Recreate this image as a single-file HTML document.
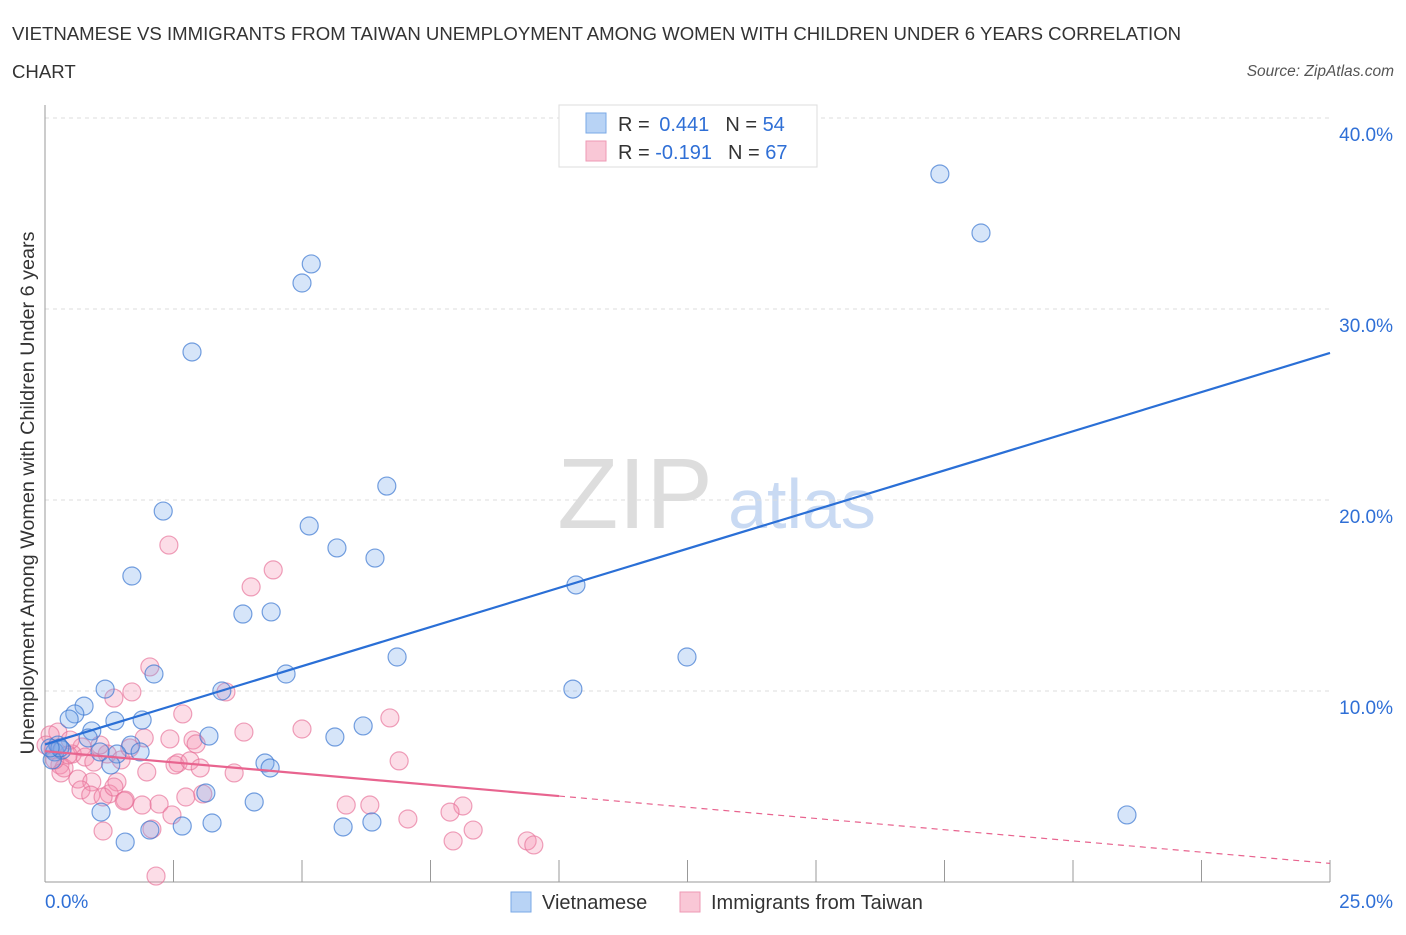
<!DOCTYPE html>
<html><head><meta charset="utf-8"><style>
body{margin:0;background:#fff;font-family:"Liberation Sans",sans-serif;}
svg text{font-family:"Liberation Sans",sans-serif;}
</style></head><body>
<svg id="chart" width="1406" height="930" viewBox="0 0 1406 930" xmlns="http://www.w3.org/2000/svg">
<text x="12" y="40" font-size="18.6" fill="#333">VIETNAMESE VS IMMIGRANTS FROM TAIWAN UNEMPLOYMENT AMONG WOMEN WITH CHILDREN UNDER 6 YEARS CORRELATION</text>
<text x="12" y="78" font-size="18.6" fill="#333">CHART</text>
<text x="1394" y="76" font-size="15.5" fill="#555" text-anchor="end" font-style="italic">Source: ZipAtlas.com</text>
<text transform="translate(34,493) rotate(-90)" font-size="19.8" fill="#333" text-anchor="middle">Unemployment Among Women with Children Under 6 years</text>
<g>
<text x="635" y="528" font-size="100" fill="#ddd" text-anchor="middle" font-family="Liberation Serif, serif">ZIP</text>
<text x="802" y="528" font-size="70" fill="#c9daf3" text-anchor="middle">atlas</text>
</g>
<g id="grid"></g><g id="axes"></g><g id="pts"></g><g id="trends"></g>
<g>
<rect x="559" y="105" width="258" height="62" fill="#fff" stroke="#ddd"/>
<rect x="586" y="113" width="20" height="20" fill="#b8d3f5" stroke="#7aa8e6"/>
<rect x="586" y="141" width="20" height="20" fill="#f9c7d6" stroke="#ee9ab4"/>
<text x="618" y="131" font-size="20" fill="#333">R = <tspan fill="#2f6fd6" dx="4">0.441</tspan><tspan fill="#333" dx="16">N = </tspan><tspan fill="#2f6fd6">54</tspan></text>
<text x="618" y="159" font-size="20" fill="#333">R = <tspan fill="#2f6fd6" dx="0">-0.191</tspan><tspan fill="#333" dx="16">N = </tspan><tspan fill="#2f6fd6">67</tspan></text>
</g>
<g>
<rect x="511" y="892" width="20" height="20" fill="#b8d3f5" stroke="#7aa8e6"/>
<text x="542" y="909" font-size="20" fill="#333">Vietnamese</text>
<rect x="680" y="892" width="20" height="20" fill="#f9c7d6" stroke="#ee9ab4"/>
<text x="711" y="909" font-size="20" fill="#333">Immigrants from Taiwan</text>
</g>
</svg>
<script>
const yTicks=[10,20,30,40];
const yTickLabels=["10.0%","20.0%","30.0%","40.0%"];
const xTickLabels=["0.0%","25.0%"];
const blueX=[17.41,18.21,5.18,5.00,2.86,6.65,2.30,5.14,5.68,6.42,1.69,10.33,3.85,4.40,6.85,12.49,2.12,4.69,1.17,3.44,10.27,0.76,0.58,0.47,6.19,5.64,0.91,1.36,1.89,3.19,0.84,1.67,1.85,1.40,1.07,0.19,0.33,0.25,0.14,4.28,4.38,1.28,3.13,4.07,1.09,2.67,3.25,2.04,5.80,6.36,1.56,21.05,0.29,0.10];
const blueY=[37.07,33.98,32.36,31.36,27.75,20.73,19.42,18.64,17.49,16.96,16.02,15.55,14.03,14.14,11.78,11.78,10.89,10.89,10.10,10.0,10.10,9.21,8.80,8.53,8.17,7.59,7.91,8.43,8.48,7.64,7.54,7.17,6.81,6.70,6.81,6.81,6.91,7.17,6.39,6.23,5.97,6.13,4.66,4.19,3.66,2.93,3.09,2.72,2.88,3.14,2.09,3.51,7.02,7.02];
const pinkX=[2.41,4.44,4.01,2.04,2.68,1.69,1.34,3.52,6.71,5.00,3.87,2.43,2.88,1.93,2.94,0.72,0.25,0.10,0.16,0.29,0.37,0.53,0.78,0.95,1.21,1.48,2.59,2.53,2.82,3.02,1.98,3.68,6.89,0.64,0.91,1.40,0.70,0.89,1.25,1.13,1.34,1.56,1.54,1.89,2.22,2.74,3.07,5.86,6.32,8.13,7.88,7.06,2.47,2.08,1.13,8.33,7.94,9.38,9.51,2.16,0.31,0.19,0.49,1.07,0.02,1.65,0.45];
const pinkY=[17.64,16.34,15.45,11.26,8.80,9.95,9.63,9.95,8.59,8.01,7.85,7.49,7.43,7.54,7.23,7.07,7.85,7.70,6.91,6.13,5.97,6.70,6.54,6.28,6.70,6.39,6.23,6.13,6.34,5.97,5.76,5.71,6.34,5.39,5.24,5.24,4.82,4.55,4.61,4.45,4.97,4.29,4.24,4.03,4.08,4.45,4.61,4.03,4.03,3.98,3.66,3.30,3.51,2.77,2.67,2.72,2.15,2.15,1.94,0.31,5.71,6.39,7.43,7.17,7.17,7.02,6.65];
const blueTrend=[7.2,27.7];
const pinkTrend=[6.85,0.975];
const pinkSolidEnd=10;
(function(){
const NS="http://www.w3.org/2000/svg";
const X0=45,X1=1330,Y0=882,PER=19.1;
const xs=v=>X0+(X1-X0)*v/25, ys=v=>Y0-v*PER;
function mk(t,a,p){const e=document.createElementNS(NS,t);for(const k in a)e.setAttribute(k,a[k]);document.getElementById(p).appendChild(e);return e;}
yTicks.forEach((t,i)=>{
 const l=mk('line',{x1:X0,x2:X1,y1:ys(t),y2:ys(t),stroke:'#ddd','stroke-dasharray':'4,4'},'grid');
 
 
 const tx=mk('text',{x:1393,y:ys(t)+23,'font-size':19,fill:'#2f6fd6','text-anchor':'end'},'axes');
 tx.textContent=yTickLabels[i];
 
 
});
const ya=mk('line',{x1:X0,x2:X0,y1:105,y2:Y0,stroke:'#999'},'axes');


const xa=mk('line',{x1:X0,x2:X1,y1:Y0,y2:Y0,stroke:'#999'},'axes');


for(let i=1;i<=10;i++){const tk=mk('line',{x1:xs(i*2.5),x2:xs(i*2.5),y1:Y0,y2:Y0-22,stroke:'#999'},'axes');
 
 }
const xl0=mk('text',{x:45,y:908,'font-size':19,fill:'#2f6fd6'},'axes');xl0.textContent=xTickLabels[0];


const xl1=mk('text',{x:1393,y:908,'font-size':19,fill:'#2f6fd6','text-anchor':'end'},'axes');xl1.textContent=xTickLabels[1];


pinkX.forEach((v,i)=>{const c=mk('circle',{cx:xs(v),cy:ys(pinkY[i]),r:9,fill:'rgba(244,143,177,0.3)',stroke:'rgba(230,110,150,0.65)','stroke-width':1.2},'pts');
 
 });
blueX.forEach((v,i)=>{const c=mk('circle',{cx:xs(v),cy:ys(blueY[i]),r:9,fill:'rgba(120,170,235,0.3)',stroke:'rgba(60,120,210,0.7)','stroke-width':1.2},'pts');
 
 });
const bl=mk('line',{x1:xs(0),y1:ys(blueTrend[0]),x2:xs(25),y2:ys(blueTrend[1]),stroke:'#2a6fd6','stroke-width':2.2},'trends');


const pm=pinkTrend[0]+(pinkTrend[1]-pinkTrend[0])*pinkSolidEnd/25;
const pl=mk('line',{x1:xs(0),y1:ys(pinkTrend[0]),x2:xs(pinkSolidEnd),y2:ys(pm),stroke:'#e8648f','stroke-width':2.2},'trends');


const pd=mk('line',{x1:xs(pinkSolidEnd),y1:ys(pm),x2:xs(25),y2:ys(pinkTrend[1]),stroke:'#e8648f','stroke-width':1.2,'stroke-dasharray':'6,5'},'trends');


})();
</script>
</body></html>
